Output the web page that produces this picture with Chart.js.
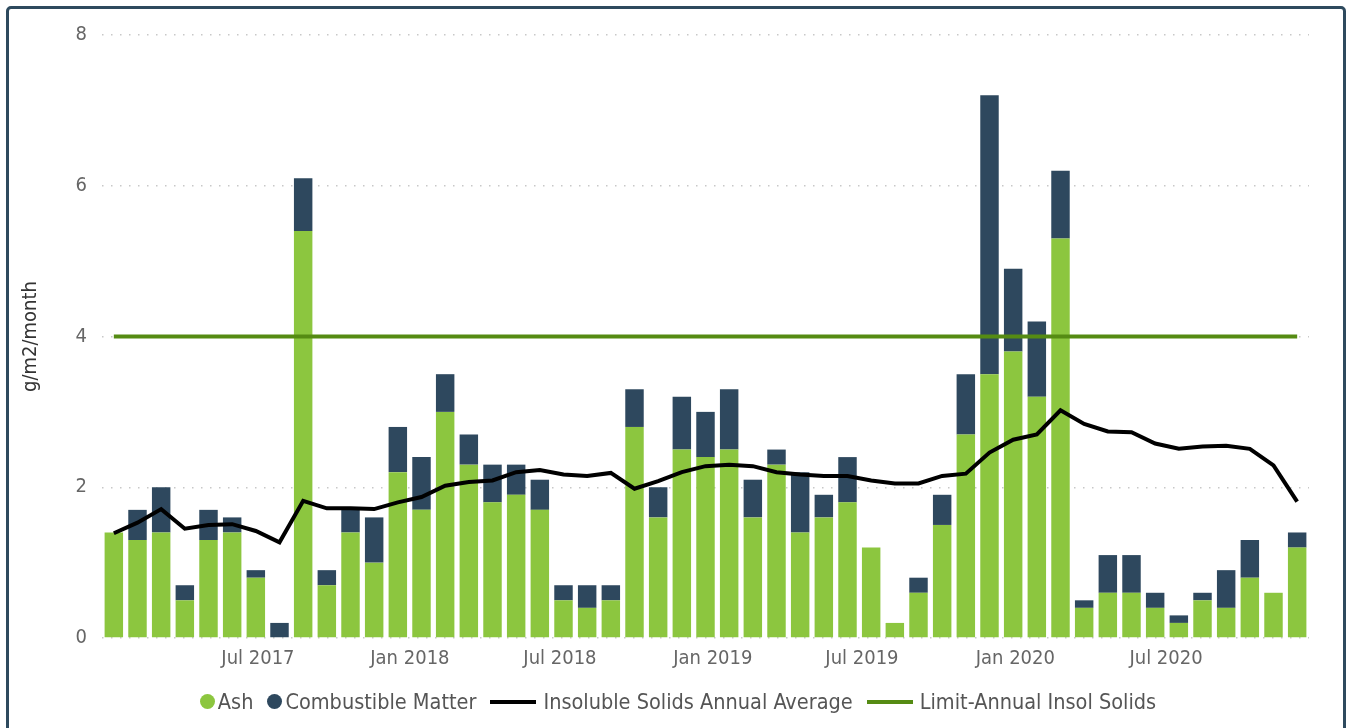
<!DOCTYPE html>
<html>
<head>
<meta charset="utf-8">
<script src="https://cdn.jsdelivr.net/npm/chart.js@4/dist/chart.umd.min.js"></script>
<style>
  html, body { margin: 0; padding: 0; background: #fff; overflow: hidden; }
  #wrap { position: absolute; left: 0; top: 0; width: 1349px; height: 680px; }
  #frame {
    position: absolute; left: 6px; top: 6px; width: 1334px; height: 760px;
    border: 3px solid #2e4a5e; border-radius: 5px; pointer-events: none;
  }
  #legend {
    position: absolute; left: 0; top: 689px; width: 1356px;
    display: flex; justify-content: center; align-items: center;
    font-family: "DejaVu Sans Condensed", "DejaVu Sans", sans-serif;
    font-size: 21.5px; color: #555;
  }
  .item { display: flex; align-items: center; margin: 0 7px; }
  .dot { width: 15px; height: 15px; border-radius: 50%; margin-right: 3px; }
  .bar { width: 46px; height: 4px; margin-right: 7px; }
</style>
</head>
<body>
<div id="wrap"><canvas id="chart"></canvas></div>
<div id="frame"></div>
<div id="legend"></div>
<script>
// sample periods (one bar per sample)
var periods = [];
for (var i = 1; i <= 51; i++) periods.push(String(i));

// month labels on the x axis and where they fall (in sample index units)
var tickLabels = ["Jul 2017", "Jan 2018", "Jul 2018", "Jan 2019", "Jul 2019", "Jan 2020", "Jul 2020"];
var tickIndex = [6.09, 12.51, 18.85, 25.31, 31.61, 38.09, 44.46];

var ash = [1.4, 1.3, 1.4, 0.5, 1.3, 1.4, 0.8, 0, 5.4, 0.7,
           1.4, 1.0, 2.2, 1.7, 3.0, 2.3, 1.8, 1.9, 1.7, 0.5,
           0.4, 0.5, 2.8, 1.6, 2.5, 2.4, 2.5, 1.6, 2.3, 1.4,
           1.6, 1.8, 1.2, 0.2, 0.6, 1.5, 2.7, 3.5, 3.8, 3.2,
           5.3, 0.4, 0.6, 0.6, 0.4, 0.2, 0.5, 0.4, 0.8, 0.6, 1.2];

var combustible = [0, 0.4, 0.6, 0.2, 0.4, 0.2, 0.1, 0.2, 0.7, 0.2,
                   0.3, 0.6, 0.6, 0.7, 0.5, 0.4, 0.5, 0.4, 0.4, 0.2,
                   0.3, 0.2, 0.5, 0.4, 0.7, 0.6, 0.8, 0.5, 0.2, 0.8,
                   0.3, 0.6, 0, 0, 0.2, 0.4, 0.8, 3.7, 1.1, 1.0,
                   0.9, 0.1, 0.5, 0.5, 0.2, 0.1, 0.1, 0.5, 0.5, 0, 0.2];

var annualAvg = [1.39, 1.53, 1.71, 1.45, 1.50, 1.51, 1.42, 1.27, 1.82, 1.72,
                 1.72, 1.71, 1.80, 1.87, 2.02, 2.07, 2.09, 2.20, 2.23, 2.17,
                 2.15, 2.19, 1.98, 2.08, 2.20, 2.28, 2.30, 2.28, 2.20, 2.17,
                 2.15, 2.15, 2.09, 2.05, 2.05, 2.15, 2.18, 2.46, 2.63, 2.70,
                 3.02, 2.84, 2.74, 2.73, 2.58, 2.51, 2.54, 2.55, 2.51, 2.29, 1.81];

var limit = 4;

Chart.defaults.font.family = '"DejaVu Sans Condensed", "DejaVu Sans", sans-serif';
Chart.defaults.font.size = 20;
Chart.defaults.color = "#666";

var chart = new Chart(document.getElementById("chart"), {
  type: "bar",
  data: {
    labels: periods,
    datasets: [
      {
        label: "Ash",
        data: ash,
        backgroundColor: "#8cc63f",
        stack: "solids",
        order: 2,
        shape: "dot"
      },
      {
        label: "Combustible Matter",
        data: combustible,
        backgroundColor: "#2e485e",
        stack: "solids",
        order: 2,
        shape: "dot"
      },
      {
        type: "line",
        label: "Insoluble Solids Annual Average",
        data: annualAvg,
        borderColor: "#000",
        backgroundColor: "#000",
        borderWidth: 4,
        pointRadius: 0,
        stack: "avg",
        order: 1,
        shape: "line"
      },
      {
        type: "line",
        label: "Limit-Annual Insol Solids",
        data: periods.map(function () { return limit; }),
        borderColor: "#558b13",
        backgroundColor: "#558b13",
        borderWidth: 4,
        pointRadius: 0,
        stack: "limit",
        order: 0,
        shape: "line"
      }
    ]
  },
  options: {
    responsive: true,
    maintainAspectRatio: false,
    animation: false,
    layout: { padding: { left: 15, right: 40, top: 35, bottom: 0 } },
    datasets: {
      bar: { categoryPercentage: 1, barPercentage: 0.78 }
    },
    plugins: {
      legend: { display: false },
      tooltip: { enabled: false }
    },
    scales: {
      x: {
        stacked: true,
        display: false
      },
      months: {
        type: "linear",
        position: "bottom",
        offset: false,
        min: -0.5,
        max: 50.5,
        grid: { display: false, drawTicks: false, offset: false },
        border: { display: false },
        afterBuildTicks: function (axis) {
          axis.ticks = tickIndex.map(function (v) { return { value: v }; });
        },
        ticks: {
          autoSkip: false,
          maxRotation: 0,
          padding: 9,
          color: "#666",
          callback: function (value) {
            var k = tickIndex.indexOf(value);
            return k >= 0 ? tickLabels[k] : "";
          }
        }
      },
      y: {
        stacked: true,
        min: 0,
        max: 8,
        ticks: { stepSize: 2, padding: 15, color: "#666" },
        grid: {
          color: "#c8c8c8",
          lineWidth: 1.5,
          drawTicks: false
        },
        border: { display: false, dash: [1.5, 7.5] },
        title: {
          display: true,
          text: "g/m2/month",
          color: "#333",
          font: { size: 20 }
        },
        afterFit: function (axis) { axis.width = 87; }
      }
    }
  }
});

// html legend from the datasets
var legend = document.getElementById("legend");
chart.data.datasets.forEach(function (ds) {
  var item = document.createElement("div");
  item.className = "item";
  var mark = document.createElement("span");
  mark.className = ds.shape === "dot" ? "dot" : "bar";
  mark.style.background = ds.type === "line" ? ds.borderColor : ds.backgroundColor;
  var txt = document.createElement("span");
  txt.textContent = ds.label;
  item.appendChild(mark);
  item.appendChild(txt);
  legend.appendChild(item);
});
</script>
</body>
</html>
